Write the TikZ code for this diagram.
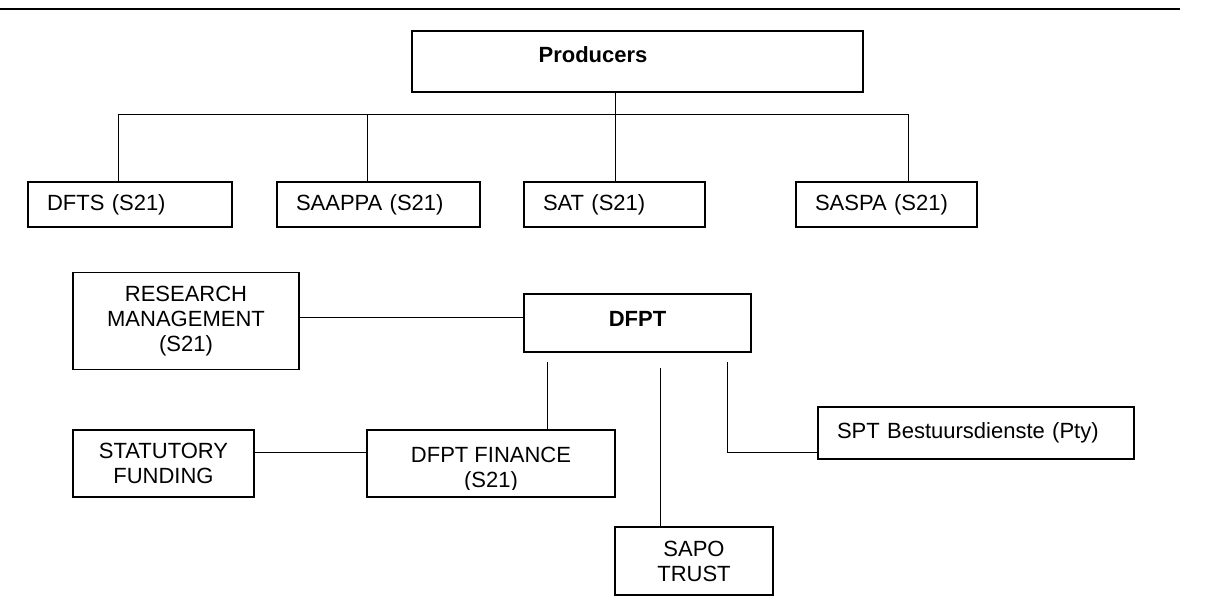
\documentclass[tikz,border=0pt]{standalone}
\usepackage{fontspec}
\setmainfont{Liberation Sans}
\begin{document}
\begin{tikzpicture}[
x=1pt, y=-1pt,
orgbox/.style={draw=black, line width=1.4pt, inner sep=0pt, font=\fontsize{22}{25}\selectfont},
leftbox/.style={orgbox, align=left, inner xsep=19pt},
midbox/.style={orgbox, align=center},
link/.style={line width=1pt}
]
    \useasboundingbox (0,0) rectangle (1223,602);
    \draw [line width=1.6pt] (0,9) -- (1180,9);

    % producers and their members
    \node [orgbox, minimum width=451, minimum height=61] (prod) at (637.5,61.5) {};
    \node [font=\bfseries\fontsize{22}{25}\selectfont] (prodlabel) at (593,55) {Producers};

    \node [leftbox, text width=166pt, minimum height=45] (dfts) at (130,204.5) {DFTS (S21)};
    \node [leftbox, text width=165pt, minimum height=45] (saappa) at (378.5,204.5) {SAAPPA (S21)};
    \node [leftbox, text width=143pt, minimum height=45] (sat) at (614.5,204.5) {SAT (S21)};
    \node [leftbox, text width=143pt, minimum height=45] (saspa) at (886.5,204.5) {SASPA (S21)};

    \coordinate (b1) at (118,114);
    \coordinate (b2) at (367,114);
    \coordinate (b3) at (615,114);
    \coordinate (b4) at (908,114);

    \draw [link] (b3 |- prod.south) -- (b3);
    \draw [link] (b1) -- (b4);
    \draw [link] (b1) -- (b1 |- dfts.north);
    \draw [link] (b2) -- (b2 |- saappa.north);
    \draw [link] (b3) -- (b3 |- sat.north);
    \draw [link] (b4) -- (b4 |- saspa.north);

    % DFPT and its parts
    \node [midbox, font=\bfseries\fontsize{22}{25}\selectfont, text height=16pt, text depth=10pt, minimum width=227, minimum height=58] (dfpt) at (637.5,323) {DFPT};
    \node [midbox, minimum width=226, minimum height=97] (research) at (186,321) {RESEARCH\\MANAGEMENT\\(S21)};
    \node [midbox, minimum width=181, minimum height=67] (statutory) at (163.5,463.5) {STATUTORY\\FUNDING};
    \node [orgbox, minimum width=248, minimum height=67] (finance) at (491,463.5) {};
    \begin{scope}
        \clip (367,430) rectangle (615,489);
        \node [midbox, draw=none] (financelabel) at (491,470) {DFPT FINANCE\\(S21)};
    \end{scope}
    \node [midbox, minimum width=158, minimum height=68] (sapo) at (694,561) {SAPO\\TRUST};
    \node [leftbox, text width=278pt, minimum height=52] (spt) at (976,433) {SPT Bestuursdienste (Pty)};

    \coordinate (finup) at (547,362);
    \coordinate (sapoup) at (660,368);
    \coordinate (sptup) at (727,362);

    \draw [link] ([yshift=4pt]research.east) -- ([yshift=4pt]research.east -| dfpt.west);
    \draw [link] ([yshift=11.5pt]statutory.east) -- ([yshift=11.5pt]statutory.east -| finance.west);
    \draw [link] (finup) -- (finup |- finance.north);
    \draw [link] (sapoup) -- (sapoup |- sapo.north);
    \draw [link] (sptup) |- ([yshift=-19pt]spt.west);

\end{tikzpicture}
\end{document}
